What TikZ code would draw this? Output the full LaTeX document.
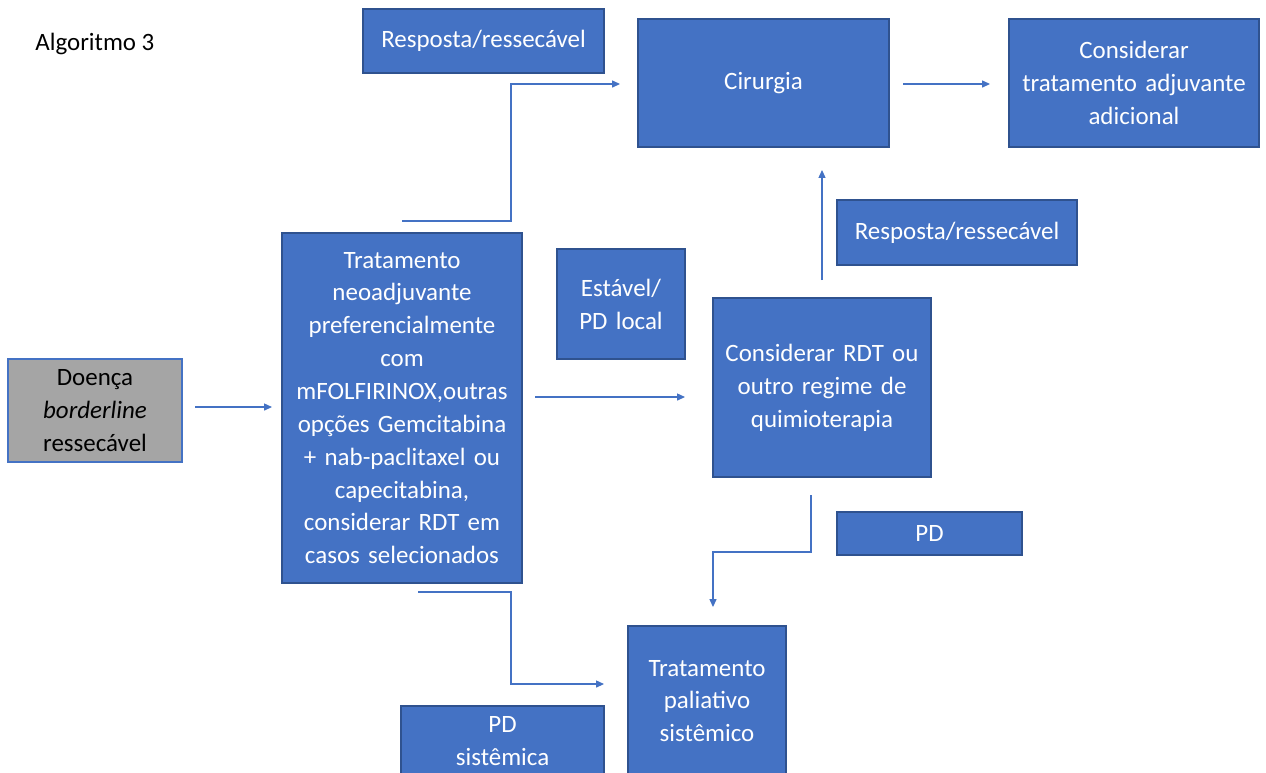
\documentclass[tikz,border=0pt]{standalone}
\usepackage{fontspec}
\setmainfont{Carlito}
\usetikzlibrary{arrows.meta,calc}
\definecolor{obl}{HTML}{4472C4}
\definecolor{obd}{HTML}{2F528F}
\definecolor{ogr}{HTML}{A5A5A5}
\begin{document}
\begin{tikzpicture}[x=0.02cm,y=-0.02cm,
  box/.style={draw=obd,line width=0.7pt,fill=obl,text=white,align=center,inner sep=0pt,font=\fontsize{14.2}{18.7}\selectfont},
  conn/.style={draw=obl,line width=0.6pt,-{Triangle[length=4.5pt,width=4pt]}}]
\useasboundingbox (0,0) rectangle (1266,772);
\fill[white] (0,0) rectangle (1266,772);
\node[anchor=west,inner sep=0pt,font=\fontsize{14.2}{18.7}\selectfont] (title) at (35,44) {Algoritmo 3};
\node[box,minimum width=241*0.02cm,minimum height=64*0.02cm,text width=230*0.02cm] (resp1) at (483.5,41) {Resposta/ressecável};
\node[box,minimum width=251*0.02cm,minimum height=128*0.02cm,text width=240*0.02cm] (cir) at (763.5,83) {Cirurgia};
\node[box,minimum width=250*0.02cm,minimum height=128*0.02cm,text width=240*0.02cm] (adj) at (1134,83) {Considerar\\tratamento adjuvante\\adicional};
\node[box,minimum width=240*0.02cm,minimum height=65*0.02cm,text width=230*0.02cm] (resp2) at (957,232.5) {Resposta/ressecável};
\node[box,minimum width=240*0.02cm,minimum height=350*0.02cm,text width=232*0.02cm] (neo) at (402,408) {Tratamento\\neoadjuvante\\preferencialmente\\com\\mFOLFIRINOX,outras\\opções Gemcitabina\\+ nab-paclitaxel ou\\capecitabina,\\considerar RDT em\\casos selecionados};
\node[box,minimum width=128*0.02cm,minimum height=110*0.02cm,text width=120*0.02cm] (est) at (621,304) {Estável/\\PD local};
\node[box,minimum width=218*0.02cm,minimum height=179*0.02cm,text width=210*0.02cm] (rdt) at (822,387.5) {Considerar RDT ou\\outro regime de\\quimioterapia};
\node[box,fill=ogr,text=black,draw=obl,minimum width=174*0.02cm,minimum height=103*0.02cm,text width=166*0.02cm] (doe) at (95,410.5) {Doença\\\textit{borderline}\\ressecável};
\node[box,minimum width=185*0.02cm,minimum height=43*0.02cm,text width=175*0.02cm] (pd) at (929.5,533.5) {PD};
\node[box,minimum width=158*0.02cm,minimum height=150*0.02cm,text width=150*0.02cm] (pal) at (707,701) {Tratamento\\paliativo\\sistêmico};
\node[box,minimum width=203*0.02cm,minimum height=70*0.02cm,text width=195*0.02cm] (pds) at (502.5,741) {PD\\sistêmica};
% connector points
\coordinate (c1s) at (195,407); \coordinate (c1e) at (272,407);
\coordinate (c2s) at (535,397); \coordinate (c2e) at (685,397);
\coordinate (c3s) at (402,221); \coordinate (c3e) at (620,84);
\coordinate (c4s) at (903,84); \coordinate (c4e) at (990,84);
\coordinate (c5s) at (822,280); \coordinate (c5e) at (822,170);
\coordinate (c6s) at (811,495); \coordinate (c6e) at (713,607);
\coordinate (c7s) at (418,592); \coordinate (c7e) at (604,684);
\draw[conn] (c1s) -- (c1e);
\draw[conn] (c2s) -- (c2e);
\draw[conn] (c3s) -- (511,221) -- (511,84) -- (c3e);
\draw[conn] (c4s) -- (c4e);
\draw[conn] (c5s) -- (c5e);
\draw[conn] (c6s) -- (811,552) -- (713,552) -- (c6e);
\draw[conn] (c7s) -- (511,592) -- (511,684) -- (c7e);
\end{tikzpicture}
\end{document}
